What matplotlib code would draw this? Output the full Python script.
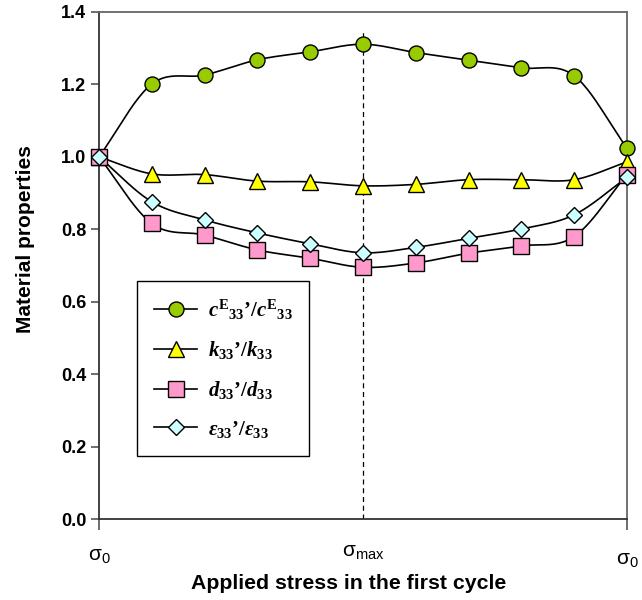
import matplotlib
matplotlib.use('Agg')
import matplotlib.pyplot as plt
import numpy as np

# stress steps over the first cycle: sigma_0 -> sigma_max -> sigma_0
steps = [0, 1, 2, 3, 4, 5, 6, 7, 8, 9, 10]
c33 = [1.000, 1.201, 1.226, 1.268, 1.290, 1.311, 1.288, 1.267, 1.246, 1.224, 1.024]
k33 = [1.000, 0.953, 0.951, 0.933, 0.931, 0.920, 0.924, 0.937, 0.937, 0.937, 0.986]
d33 = [1.000, 0.816, 0.784, 0.743, 0.720, 0.695, 0.707, 0.734, 0.754, 0.780, 0.951]
e33 = [1.000, 0.876, 0.826, 0.790, 0.760, 0.735, 0.750, 0.775, 0.801, 0.840, 0.943]

stress_pos = [0, 5, 10]
stress_labels = [r'$\mathsf{\sigma_0}$', r'$\mathsf{\sigma_{max}}$', r'$\mathsf{\sigma_0}$']
yticks = [0.0, 0.2, 0.4, 0.6, 0.8, 1.0, 1.2, 1.4]

plt.rcParams['mathtext.fontset'] = 'custom'
plt.rcParams['mathtext.rm'] = 'Liberation Serif:bold'
plt.rcParams['mathtext.it'] = 'Liberation Serif:bold:italic'
plt.rcParams['mathtext.bf'] = 'Liberation Serif:bold'
plt.rcParams['mathtext.sf'] = 'Liberation Sans'


def smooth(x, y, n=24):
    # Catmull-Rom curve through the points (like a spreadsheet "smoothed line")
    x = np.asarray(x, float)
    y = np.asarray(y, float)
    px = np.concatenate([[2 * x[0] - x[1]], x, [2 * x[-1] - x[-2]]])
    py = np.concatenate([[2 * y[0] - y[1]], y, [2 * y[-1] - y[-2]]])
    xs, ys = [], []
    t = np.linspace(0, 1, n, endpoint=False)
    for i in range(1, len(px) - 2):
        for p, out in ((px, xs), (py, ys)):
            p0, p1, p2, p3 = p[i - 1], p[i], p[i + 1], p[i + 2]
            out.extend(0.5 * (2 * p1 + (-p0 + p2) * t
                              + (2 * p0 - 5 * p1 + 4 * p2 - p3) * t ** 2
                              + (-p0 + 3 * p1 - 3 * p2 + p3) * t ** 3))
    xs.append(x[-1])
    ys.append(y[-1])
    return xs, ys


fig = plt.figure(figsize=(6.42, 6.0), dpi=100)
ax = fig.add_axes([0.1542, 0.135, 0.8224, 0.845])

series = [
    (c33, 'o', '#99CC00', 10.8, r"$c^{\mathrm{E}}{}_{33}$’/$c^{\mathrm{E}}{}_{33}$"),
    (k33, '^', '#FFFF00', 12.0, r"$k_{33}$’/$k_{33}$"),
    (d33, 's', '#FF99CC', 11.0, r"$d_{33}$’/$d_{33}$"),
    (e33, 'D', '#CCFFFF', 8.5, r"$\varepsilon_{33}$’/$\varepsilon_{33}$"),
]

ax.vlines(5, 0, 1.353, colors='black', linestyles=(0, (4, 3)), lw=0.9, zorder=1)

handles = []
for vals, mk, col, ms, lab in series:
    sx, sy = smooth(steps, vals)
    ax.plot(sx, sy, color='black', lw=1.2, zorder=2)
    ax.plot(steps, vals, ls='none', marker=mk, markersize=ms, markerfacecolor=col,
            markeredgecolor='black', markeredgewidth=1.0, zorder=3, clip_on=False)
    h, = ax.plot([], [], color='black', lw=1.2, marker=mk, markersize=ms,
                 markerfacecolor=col, markeredgecolor='black', markeredgewidth=1.0)
    handles.append((h, lab))

ax.set_xlim(0, 10)
ax.set_ylim(0, 1.4)
ax.set_yticks(yticks)
ax.set_yticklabels(['%.1f' % v for v in yticks], fontfamily='Liberation Sans',
                   fontweight='bold', fontsize=13)
ax.tick_params(axis='y', direction='out', length=6, width=1.2, pad=3, color='#555555')
ax.set_xticks([0, 10])
ax.set_xticklabels(['', ''])
ax.tick_params(axis='x', direction='out', length=8, width=1.2, color='#555555')

for side in ['left', 'bottom']:
    ax.spines[side].set_linewidth(1.3)
    ax.spines[side].set_color('#333333')
for side in ['top', 'right']:
    ax.spines[side].set_linewidth(1.3)
    ax.spines[side].set_color('#666666')

label_y = [-0.072, -0.066, -0.08]
for xp, lab, yy in zip(stress_pos, stress_labels, label_y):
    ax.text(xp, yy, lab, transform=ax.get_xaxis_transform(), ha='center', va='center',
            fontsize=15)

ax.set_xlabel('Applied stress in the first cycle', fontfamily='Liberation Sans',
              fontweight='bold', fontsize=15.3, va='center')
ax.xaxis.set_label_coords(0.472, -0.127)
ax.set_ylabel('Material properties', fontfamily='Liberation Sans',
              fontweight='bold', fontsize=15, va='center')
ax.yaxis.set_label_coords(-0.140, 0.552)

leg = ax.legend([h for h, _ in handles], [l for _, l in handles],
                loc='upper left', bbox_to_anchor=(0.072, 0.47), borderaxespad=0,
                prop={'family': 'Liberation Serif', 'weight': 'bold', 'size': 15},
                handlelength=2.1, handletextpad=0.5, labelspacing=0.85,
                borderpad=0.8, fancybox=False, framealpha=1, edgecolor='black')
leg.get_frame().set_linewidth(1.0)

plt.savefig('out.png', dpi=100)
